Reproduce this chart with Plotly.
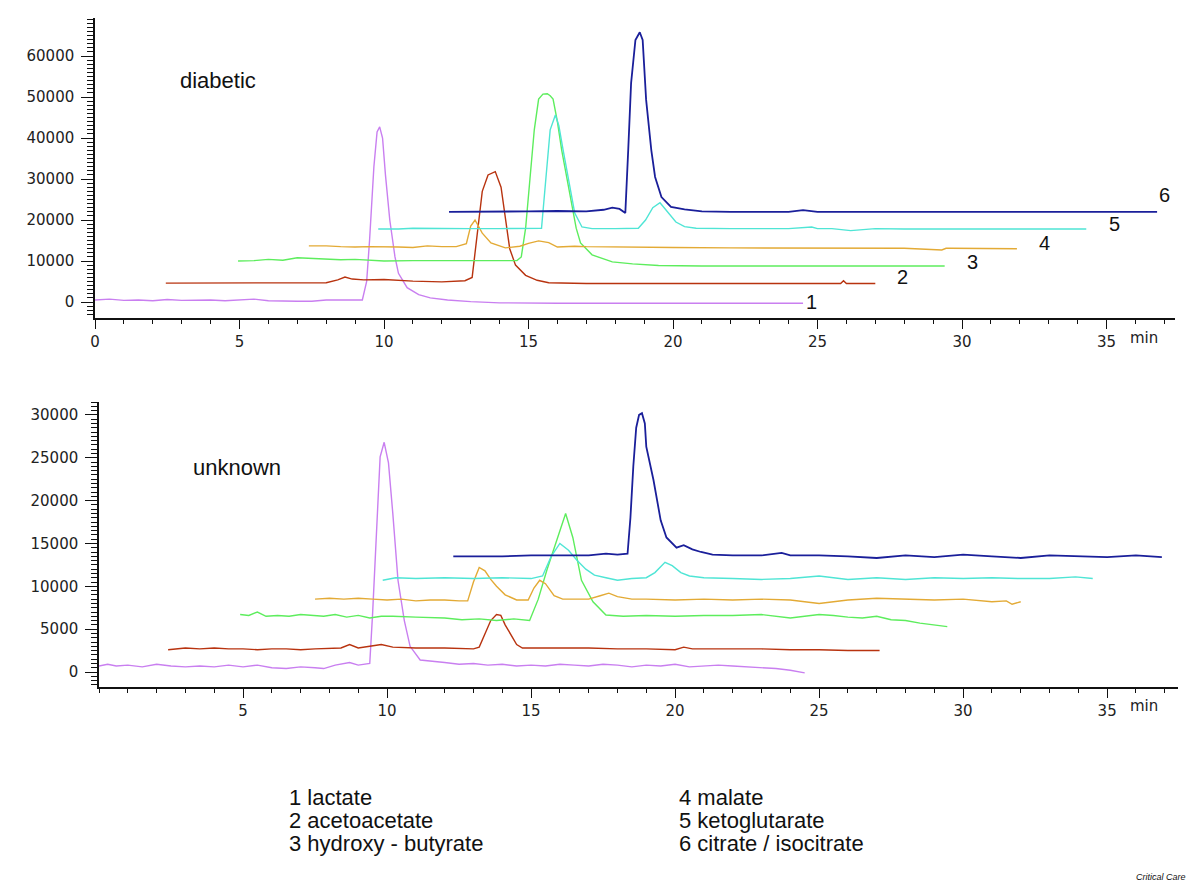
import plotly.graph_objects as go

# ---- diabetic (top panel) ----
top1_t = [0, 0.5, 1, 1.5, 2, 2.5, 3, 3.5, 4, 4.5, 5, 5.5, 6, 6.5, 7, 7.5, 8, 8.5, 9, 9.25, 9.4, 9.5, 9.65, 9.76, 9.85, 9.95, 10.05, 10.2, 10.38, 10.5, 10.8, 11.2, 11.6, 12.2, 13, 14, 16, 18, 20, 22, 24.5]
top1_y = [500, 700, 400, 500, 300, 600, 400, 500, 500, 300, 500, 700, 300, 200, 200, 200, 500, 500, 400, 500, 5000, 15000, 33000, 41500, 42700, 40000, 31000, 20000, 11000, 7000, 3500, 1800, 1000, 500, 100, -200, -300, -300, -300, -300, -300]

top2_t = [2.45, 4, 6, 8, 8.4, 8.65, 8.9, 9.3, 10, 11, 12, 12.8, 13.05, 13.2, 13.4, 13.6, 13.85, 14.05, 14.2, 14.35, 14.55, 14.9, 15.3, 15.7, 17, 20, 23, 25.8, 25.9, 26, 27]
top2_y = [4600, 4600, 4600, 4700, 5400, 6100, 5600, 5400, 5500, 5100, 4900, 5200, 6000, 15000, 27000, 31000, 31800, 28000, 20000, 13000, 9000, 6500, 5300, 4700, 4500, 4500, 4500, 4500, 5200, 4500, 4500]

top3_t = [4.95, 5.5, 6, 6.5, 7, 7.5, 8, 8.5, 9, 9.5, 10, 11, 12, 13, 14, 14.6, 14.75, 14.9, 15.05, 15.2, 15.35, 15.5, 15.65, 15.75, 15.85, 16.0, 16.15, 16.3, 16.5, 16.65, 16.8, 17.2, 17.9, 18.6, 19.5, 21, 24, 27, 29.4]
top3_y = [10000, 10100, 10400, 10200, 10800, 10600, 10500, 10300, 10400, 10200, 10000, 10100, 10100, 10000, 10100, 10100, 11000, 18000, 30000, 42000, 49500, 50700, 50800, 50300, 49500, 44000, 37000, 31000, 23000, 18000, 14400, 11500, 9800, 9300, 8900, 8800, 8800, 8800, 8800]

top4_t = [7.4, 8, 8.5, 9, 9.5, 10, 10.5, 11, 11.5, 12, 12.5, 12.85, 13.0, 13.15, 13.4, 13.7, 14.2, 14.7, 15.0, 15.35, 15.7, 16.0, 16.6, 17, 18, 20, 22, 25, 28, 29.3, 29.45, 29.6, 31.9]
top4_y = [13700, 13700, 13500, 13400, 13500, 13500, 13400, 13300, 13700, 13500, 13500, 14200, 18500, 20000, 16800, 14400, 13200, 13600, 14300, 14900, 14500, 13400, 13600, 13500, 13400, 13300, 13200, 13200, 13100, 12700, 13100, 13100, 13000]

top5_t = [9.8, 10.5, 11, 12, 13, 14, 15, 15.45, 15.6, 15.75, 15.93, 16.05, 16.2, 16.4, 16.6, 16.85, 17.2, 18, 18.8, 19.05, 19.3, 19.55, 19.8, 20.1, 20.4, 20.8, 22, 24, 24.8, 25, 25.5, 26.15, 27, 28, 30, 32, 34.3]
top5_y = [17800, 17800, 18000, 17900, 17900, 17900, 17900, 18000, 30000, 42000, 45600, 43000, 37000, 29000, 21700, 18300, 17900, 17900, 18000, 20000, 23000, 24200, 22000, 19500, 18400, 18000, 17900, 17900, 18300, 17900, 17900, 17400, 17900, 17800, 17800, 17800, 17800]

top6_t = [12.25, 13, 14, 15, 16, 17, 17.6, 17.9, 18.15, 18.35, 18.45, 18.55, 18.7, 18.85, 18.95, 19.07, 19.25, 19.38, 19.6, 19.93, 20.4, 21, 22, 23, 24, 24.5, 25, 26, 28, 30, 32, 34, 36.75]
top6_y = [22000, 22000, 22100, 22100, 22200, 22100, 22500, 23000, 22700, 21700, 37000, 53400, 63900, 65800, 63900, 49300, 37000, 30500, 25600, 23200, 22600, 22100, 22000, 22000, 22000, 22400, 22000, 22000, 22000, 22000, 22000, 22000, 22000]

# ---- unknown (bottom panel) ----
bot1_t = [0, 0.3, 0.6, 1, 1.5, 2, 2.5, 3, 3.5, 4, 4.5, 5, 5.5, 6, 6.5, 7, 7.5, 7.8, 8.2, 8.7, 9.0, 9.2, 9.4, 9.5, 9.65, 9.76, 9.9, 10.05, 10.2, 10.38, 10.6, 10.8, 11.15, 11.6, 12, 12.5, 13, 13.5, 14, 14.5, 15, 15.5, 16, 16.5, 17, 17.5, 18, 18.5, 19, 19.5, 20, 20.5, 21, 21.5, 22, 22.5, 23, 23.5, 24, 24.5]
bot1_y = [700, 900, 700, 800, 600, 900, 700, 600, 700, 600, 800, 600, 800, 500, 400, 600, 500, 400, 800, 1100, 800, 900, 1000, 6900, 18500, 25100, 26800, 24400, 18500, 10700, 6000, 3000, 1400, 1200, 1100, 900, 1000, 800, 900, 700, 800, 700, 900, 800, 700, 900, 800, 600, 800, 700, 900, 600, 700, 800, 700, 600, 500, 400, 200, -100]

bot2_t = [2.4, 3, 3.5, 4, 4.5, 5, 5.5, 6, 6.5, 7, 7.5, 8, 8.4, 8.7, 9, 9.4, 9.8, 10.2, 11, 12, 13, 13.2, 13.4, 13.6, 13.8, 13.95, 14.1, 14.3, 14.5, 14.7, 15, 16, 17, 18, 19, 20, 20.3, 20.6, 21, 22, 23, 24, 25, 26, 27.1]
bot2_y = [2600, 2800, 2700, 2800, 2700, 2700, 2600, 2700, 2700, 2600, 2700, 2800, 2800, 3200, 2800, 3000, 3200, 2900, 2800, 2800, 2700, 2900, 4500, 6000, 6700, 6600, 5500, 4300, 3200, 2800, 2800, 2800, 2800, 2700, 2700, 2600, 2900, 2700, 2700, 2700, 2700, 2600, 2600, 2500, 2500]

bot3_t = [4.9, 5.2, 5.5, 5.8, 6.2, 6.6, 7, 7.4, 7.8, 8.2, 8.6, 9, 9.4, 9.8, 10.2, 11, 12, 12.6, 13.2, 13.8, 14.4, 14.95, 15.25, 15.55, 16.0, 16.2, 16.45, 16.75, 17.15, 17.6, 18.2, 19, 20, 21, 22, 23, 24, 25, 25.5, 26, 26.5, 27, 27.5, 28, 28.5, 29, 29.45]
bot3_y = [6700, 6600, 7000, 6500, 6600, 6500, 6700, 6600, 6500, 6700, 6400, 6600, 6300, 6500, 6500, 6400, 6300, 6100, 6200, 6000, 6200, 6000, 8500, 11900, 16600, 18500, 15700, 10700, 8200, 6650, 6500, 6600, 6500, 6600, 6600, 6700, 6300, 6700, 6600, 6400, 6300, 6500, 6100, 6000, 5700, 5500, 5300]

bot4_t = [7.5, 8, 8.5, 9, 9.5, 10, 10.5, 11, 11.5, 12, 12.5, 12.8, 13.0, 13.2, 13.4, 13.6, 13.8, 14.1, 14.5, 14.9, 15.1, 15.3, 15.5, 15.8, 16.1, 16.5, 17, 17.4, 17.7, 18, 18.5, 19, 20, 21, 22, 23, 24, 25, 26, 27, 28, 29, 30, 31, 31.5, 31.7, 32.0]
bot4_y = [8500, 8600, 8500, 8600, 8500, 8400, 8500, 8300, 8400, 8400, 8300, 8300, 10500, 12200, 11800, 10800, 10000, 9000, 8400, 8400, 9800, 10700, 10300, 8900, 8500, 8500, 8500, 8900, 9200, 8800, 8500, 8500, 8400, 8500, 8400, 8500, 8400, 8000, 8400, 8600, 8500, 8400, 8500, 8200, 8300, 7900, 8200]

bot5_t = [9.85, 10.3, 11, 12, 13, 14, 15, 15.4, 15.7, 16.0, 16.3, 16.6, 16.9, 17.2, 17.6, 18, 18.5, 19, 19.3, 19.65, 19.9, 20.2, 20.5, 21, 22, 23, 24, 25, 26, 27, 28, 29, 30, 31, 32, 33, 33.9, 34.5]
bot5_y = [10700, 11000, 10900, 11000, 10900, 11000, 10900, 11200, 13500, 15000, 14200, 13000, 12000, 11300, 11000, 10700, 10900, 11000, 11600, 12800, 12400, 11600, 11200, 11000, 10900, 10800, 10900, 11200, 10800, 11000, 10800, 11000, 10900, 11000, 10900, 10900, 11100, 10900]

bot6_t = [12.3, 13, 14, 15, 16, 17, 17.6, 18, 18.35, 18.45, 18.55, 18.65, 18.75, 18.85, 18.95, 19.0, 19.25, 19.5, 19.7, 20.05, 20.3, 20.6, 20.9, 21.3, 22, 23, 23.7, 24, 25, 26, 27, 28, 29, 30, 31, 32, 33, 34, 35, 36, 36.9]
bot6_y = [13500, 13500, 13500, 13600, 13600, 13600, 13800, 13700, 13800, 18000, 24000, 28500, 30000, 30200, 29000, 26300, 22400, 17700, 15700, 14500, 14800, 14300, 14000, 13700, 13600, 13600, 13900, 13600, 13600, 13500, 13300, 13600, 13400, 13700, 13500, 13300, 13600, 13500, 13400, 13600, 13400]

colors = ["#c97ff0", "#b8330f", "#5ded5d", "#e3aa35", "#4fe5d5", "#1a1f9a"]
widths = [1.4, 1.4, 1.4, 1.4, 1.4, 1.8]

top_series = [(top1_t, top1_y), (top2_t, top2_y), (top3_t, top3_y),
              (top4_t, top4_y), (top5_t, top5_y), (top6_t, top6_y)]
bot_series = [(bot1_t, bot1_y), (bot2_t, bot2_y), (bot3_t, bot3_y),
              (bot4_t, bot4_y), (bot5_t, bot5_y), (bot6_t, bot6_y)]

# trace number labels at the right end of the top panel
label_text = ["1", "2", "3", "4", "5", "6"]
label_t = [24.8, 27.95, 30.35, 32.85, 35.27, 37.0]
label_y = [0, 6100, 9750, 14400, 19000, 26100]

legend_left = ["1 lactate", "2 acetoacetate", "3 hydroxy - butyrate"]
legend_right = ["4 malate", "5 ketoglutarate", "6 citrate / isocitrate"]

top_yticks = [0, 10000, 20000, 30000, 40000, 50000, 60000]
bot_yticks = [0, 5000, 10000, 15000, 20000, 25000, 30000]
top_xticks = [0, 5, 10, 15, 20, 25, 30, 35]
bot_xticks = [5, 10, 15, 20, 25, 30, 35]

FONT = "Liberation Sans, Arial, sans-serif"
TICKFONT = dict(family="DejaVu Sans, sans-serif", size=15, color="#222")

fig = go.Figure()
for (t, y), c, w in zip(top_series, colors, widths):
    fig.add_scatter(x=t, y=y, mode="lines", line=dict(color=c, width=w),
                    xaxis="x", yaxis="y", showlegend=False, hoverinfo="skip")
for (t, y), c, w in zip(bot_series, colors, widths):
    fig.add_scatter(x=t, y=y, mode="lines", line=dict(color=c, width=w),
                    xaxis="x2", yaxis="y2", showlegend=False, hoverinfo="skip")

axis_common = dict(showline=True, linecolor="#111", linewidth=1.5, showgrid=False,
                   zeroline=False, ticks="outside", tickcolor="#111", tickwidth=1.3,
                   tickfont=TICKFONT, automargin=False, tickformat="d")

fig.update_layout(
    template="none",
    width=1200, height=882,
    margin=dict(l=0, r=0, t=0, b=0),
    paper_bgcolor="white", plot_bgcolor="white",
    font=dict(family=FONT, color="#111"),
    xaxis=dict(axis_common, domain=[95/1200, 1175/1200], range=[0, 37.37],
               tickmode="array", tickvals=top_xticks, ticklen=9, anchor="y",
               minor=dict(tickmode="linear", tick0=0, dtick=1, ticks="outside", ticklen=4, tickcolor="#111")),
    yaxis=dict(axis_common, domain=[1 - 318/882, 1 - 18/882], range=[-3900, 69270],
               tickmode="array", tickvals=top_yticks, ticklen=12, anchor="x", ticklabelstandoff=4,
               minor=dict(tickmode="linear", tick0=0, dtick=1000, ticks="outside", ticklen=6, tickcolor="#111")),
    xaxis2=dict(axis_common, domain=[99/1200, 1178/1200], range=[0, 37.46],
                tickmode="array", tickvals=bot_xticks, ticklen=9, anchor="y2",
                minor=dict(tickmode="linear", tick0=0, dtick=1, ticks="outside", ticklen=4, tickcolor="#111")),
    yaxis2=dict(axis_common, domain=[1 - 687/882, 1 - 402/882], range=[-1750, 31500],
                tickmode="array", tickvals=bot_yticks, ticklen=12, anchor="x2", ticklabelstandoff=4,
                minor=dict(tickmode="linear", tick0=0, dtick=500, ticks="outside", ticklen=6, tickcolor="#111")),
)

for txt, t, y in zip(label_text, label_t, label_y):
    fig.add_annotation(x=t, y=y, xref="x", yref="y", text=txt, showarrow=False,
                       yanchor="middle", font=dict(size=20, family=FONT))

fig.add_annotation(x=4.25, y=54000, xref="x", yref="y", text="diabetic", showarrow=False,
                   yanchor="middle", font=dict(size=22, family=FONT))
fig.add_annotation(x=4.8, y=23900, xref="x2", yref="y2", text="unknown", showarrow=False,
                   yanchor="middle", font=dict(size=22, family=FONT))

for yp in [338, 706]:
    fig.add_annotation(x=1160/1200, y=1 - yp/882, xref="paper", yref="paper", text="min",
                       showarrow=False, yanchor="middle", font=TICKFONT)

for i, (a, b) in enumerate(zip(legend_left, legend_right)):
    yp = 1 - (797 + 23 * i) / 882
    fig.add_annotation(x=287/1200, y=yp, xref="paper", yref="paper", text=a, showarrow=False,
                       xanchor="left", yanchor="middle", font=dict(size=22, family=FONT))
    fig.add_annotation(x=677/1200, y=yp, xref="paper", yref="paper", text=b, showarrow=False,
                       xanchor="left", yanchor="middle", font=dict(size=22, family=FONT))

fig.add_annotation(x=1188/1200, y=1 - 877/882, xref="paper", yref="paper", text="<i>Critical Care</i>",
                   showarrow=False, xanchor="right", yanchor="middle", font=dict(size=9, family=FONT))

# the page body has a default 8px margin; drop it so the figure sits at the window origin
fig.write_html("out.html", config={"displayModeBar": False},
               post_script="document.body.style.margin='0';")
